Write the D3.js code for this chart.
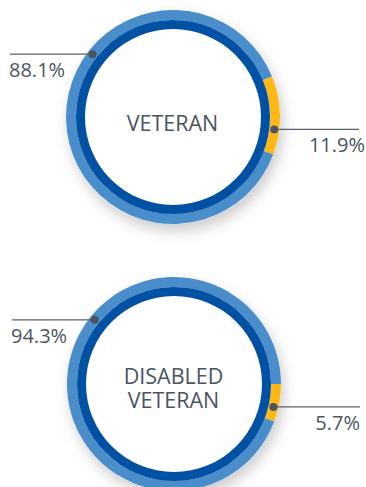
<!DOCTYPE html>
<html>
<head>
<meta charset="utf-8">
<script src="https://cdn.jsdelivr.net/npm/d3@7"></script>
<style>
  html, body { margin: 0; padding: 0; background: #ffffff; }
  svg { display: block; }
  text { font-family: "Open Sans", "Noto Sans", sans-serif; fill: #4b5561; }
</style>
</head>
<body>
<svg id="chart" width="366" height="487"></svg>
<script>
// Share of each group: the remainder (blue) and the highlighted group (yellow)
const groupTitles = [["VETERAN"], ["DISABLED", "VETERAN"]];
const otherShare = [88.1, 94.3];
const groupShare = [11.9, 5.7];

// Placement of each ring and its two callouts
const layout = [
  { cx: 173, cy: 117, titleY: [131], leftAngle: 308, rightAngle: 97, leftX: 10, rightX: 359, leftTextX: 9, rightTextX: 365 },
  { cx: 174, cy: 384, titleY: [384, 408], leftAngle: 309, rightAngle: 103, leftX: 12, rightX: 360, leftTextX: 11, rightTextX: 360 }
];

const colors = { other: "#4a8dcb", group: "#fdb813", track: "#0051a4", ink: "#4b5561" };
const rOuter = 107, rMid = 97, rInner = 88, rAnchor = 102;
const groupEndDeg = 110.5; // the highlighted slice always closes at this angle

const svg = d3.select("#chart");
const defs = svg.append("defs");
const shadow = defs.append("filter").attr("id", "ringShadow")
  .attr("x", "-30%").attr("y", "-30%").attr("width", "160%").attr("height", "160%");
shadow.append("feDropShadow")
  .attr("dx", 3).attr("dy", 7).attr("stdDeviation", 7)
  .attr("flood-color", "#000").attr("flood-opacity", 0.2);

const rad = deg => deg * Math.PI / 180;
const outerArc = d3.arc().innerRadius(rMid).outerRadius(rOuter);
const trackArc = d3.arc().innerRadius(rInner).outerRadius(rMid).startAngle(0).endAngle(2 * Math.PI);

groupTitles.forEach((title, i) => {
  const L = layout[i];
  const values = [
    { key: "group", value: groupShare[i] },
    { key: "other", value: otherShare[i] }
  ];
  const start = rad(groupEndDeg) - rad(360) * groupShare[i] / 100;
  const pie = d3.pie().sort(null).value(d => d.value)
    .startAngle(start).endAngle(start + 2 * Math.PI);

  const g = svg.append("g").attr("transform", `translate(${L.cx},${L.cy})`);

  // Ring body with a soft shadow
  const ring = g.append("g").attr("filter", "url(#ringShadow)");
  ring.append("circle").attr("r", rOuter).attr("fill", "#ffffff");
  ring.selectAll("path.slice").data(pie(values)).join("path")
    .attr("class", "slice")
    .attr("d", outerArc)
    .attr("fill", d => colors[d.data.key]);
  ring.append("path").attr("d", trackArc()).attr("fill", colors.track);

  // Title in the centre
  g.append("text")
    .attr("text-anchor", "middle")
    .attr("font-size", 21.5)
    .selectAll("tspan").data(title).join("tspan")
    .attr("x", -0.5)
    .attr("y", (d, j) => L.titleY[j] - L.cy)
    .text(d => d);

  // Callouts: left one for the remainder, right one for the highlighted group
  const point = deg => [rAnchor * Math.sin(rad(deg)), -rAnchor * Math.cos(rad(deg))];
  const callouts = [
    { deg: L.leftAngle, x2: L.leftX - L.cx, tx: L.leftTextX - L.cx, anchor: "start", value: otherShare[i] },
    { deg: L.rightAngle, x2: L.rightX - L.cx, tx: L.rightTextX - L.cx, anchor: "end", value: groupShare[i] }
  ];
  callouts.forEach(c => {
    const [px, py] = point(c.deg);
    g.append("line")
      .attr("x1", px).attr("y1", py).attr("x2", c.x2).attr("y2", py)
      .attr("stroke", "#5a626c").attr("stroke-width", 1.3);
    g.append("circle").attr("cx", px).attr("cy", py).attr("r", 4).attr("fill", colors.ink);
    g.append("text")
      .attr("x", c.tx).attr("y", py + 23)
      .attr("text-anchor", c.anchor)
      .attr("font-size", 20)
      .text(d3.format(".1f")(c.value) + "%");
  });
});
</script>
</body>
</html>
